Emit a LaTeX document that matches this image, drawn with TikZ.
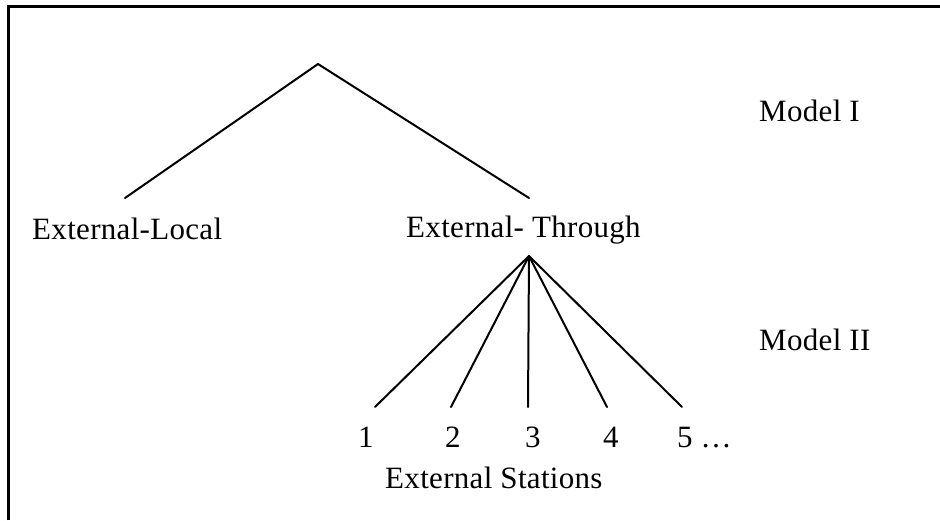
\documentclass[tikz,border=0pt]{standalone}
\usepackage{fontspec}
\setmainfont{Liberation Serif}
\begin{document}
\begin{tikzpicture}[x=1pt,y=-1pt,
  lbl/.style={anchor=base west,inner sep=0pt,font=\fontsize{31}{36}\selectfont\addfontfeatures{LetterSpace=1}},
  branch/.style={line width=2pt,line cap=round},
  frame/.style={line width=2.4pt}]
\useasboundingbox (0,0) rectangle (940,520);
\draw[frame] (8.5,520) -- (8.5,6.5) -- (940,6.5);
% coordinates
\coordinate (top) at (318,64);
\coordinate (lend) at (125,198);
\coordinate (rend) at (529,198);
\coordinate (sub) at (529,256);
\coordinate (s1) at (375,407);
\coordinate (s2) at (451,407);
\coordinate (s3) at (528,407);
\coordinate (s4) at (607,407);
\coordinate (s5) at (682,407);
% labels
\node[lbl] (local) at (32,239) {External-Local};
\node[lbl] (through) at (406,237) {External- Through};
\node[lbl] (m1) at (759,121) {Model I};
\node[lbl] (m2) at (759,350) {Model II};
\node[lbl] (n1) at (358,447) {1};
\node[lbl] (n2) at (445,447) {2};
\node[lbl] (n3) at (525,447) {3};
\node[lbl] (n4) at (603,447) {4};
\node[lbl] (n5) at (677,447) {5 …};
\node[lbl] (stations) at (385,488) {External Stations};
% connectors
\draw[branch] (lend) -- (top) -- (rend);
\foreach \s in {s1,s2,s3,s4,s5} \draw[branch] (sub) -- (\s);
\end{tikzpicture}
\end{document}
